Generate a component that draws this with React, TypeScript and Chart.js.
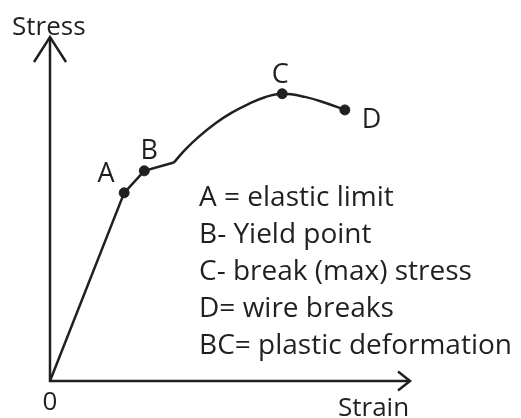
import React, { useEffect, useRef } from "react";
import { Chart, registerables } from "chart.js";

Chart.register(...registerables);

// Elastic (straight) part: origin -> A -> B -> kink
const elasticX = [0, 20.6, 26.2, 34.4];
const elasticY = [0, 54.7, 61.1, 63.5];
// Plastic (curved) part: kink -> C -> D
const plasticX = [34.4, 37.5, 41.2, 45.8, 50.5, 55.1, 59.7, 64.5, 70.8, 76.4, 81.9];
const plasticY = [63.5, 67.2, 70.9, 74.8, 78.0, 80.5, 82.5, 83.5, 82.6, 80.9, 78.8];
// Marked points
const pointLabels = ["A", "B", "C", "D"];
const pointX = [20.6, 26.2, 64.5, 81.9];
const pointY = [54.7, 61.1, 83.5, 78.8];
// Axis labels and key
const xAxisLabel = "Strain";
const yAxisLabel = "Stress";
const originLabel = "0";
const keyLines = [
  "A = elastic limit",
  "B- Yield point",
  "C- break (max) stress",
  "D= wire breaks",
  "BC= plastic deformation",
];

const INK = "#231f20";
const FONT = "26px 'Open Sans'";
const KEY_FONT = "28px 'Open Sans'";
const LABEL_FONT = "27px 'Open Sans'";

const toXY = (xs: number[], ys: number[]) => xs.map((x, i) => ({ x, y: ys[i] }));

export default function App() {
  const ref = useRef<HTMLCanvasElement | null>(null);

  useEffect(() => {
    if (!ref.current) return;
    const labelOffsets: Record<string, [number, number, CanvasTextAlign]> = {
      A: [-18, -11, "center"],
      B: [5, -12, "center"],
      C: [-2, -11, "center"],
      D: [17, 18, "left"],
    };
    const decor = {
      id: "decor",
      beforeDatasetsDraw(chart: any) {
        const ctx = chart.ctx as CanvasRenderingContext2D;
        const xs = chart.scales.x;
        const ys = chart.scales.y;
        const x0 = xs.getPixelForValue(0);
        const x1 = xs.getPixelForValue(100);
        const y0 = ys.getPixelForValue(0);
        const y1 = ys.getPixelForValue(100);
        ctx.save();
        ctx.strokeStyle = INK;
        ctx.lineWidth = 2.5;
        ctx.lineCap = "butt";
        ctx.lineJoin = "miter";
        ctx.beginPath();
        ctx.moveTo(x0, y1);
        ctx.lineTo(x0, y0);
        ctx.lineTo(x1, y0);
        ctx.stroke();
        // Y arrow head
        ctx.beginPath();
        ctx.moveTo(x0 - 16, y1 + 25);
        ctx.lineTo(x0, y1);
        ctx.lineTo(x0 + 16, y1 + 25);
        ctx.stroke();
        // X arrow head
        ctx.beginPath();
        ctx.moveTo(x1 - 12, y0 - 9.5);
        ctx.lineTo(x1, y0);
        ctx.lineTo(x1 - 12, y0 + 9.5);
        ctx.stroke();
        ctx.restore();
      },
      afterDraw(chart: any) {
        const ctx = chart.ctx as CanvasRenderingContext2D;
        const xs = chart.scales.x;
        const ys = chart.scales.y;
        const x0 = xs.getPixelForValue(0);
        const x1 = xs.getPixelForValue(100);
        const y0 = ys.getPixelForValue(0);
        const y1 = ys.getPixelForValue(100);
        ctx.save();
        ctx.fillStyle = INK;
        ctx.font = FONT;
        ctx.textBaseline = "alphabetic";
        ctx.textAlign = "left";
        ctx.fillText(yAxisLabel, x0 - 38, y1 - 2);
        ctx.textAlign = "center";
        ctx.fillText(originLabel, x0, y0 + 29);
        ctx.textAlign = "left";
        ctx.fillText(xAxisLabel, x1 - 72, y0 + 35);
        ctx.font = LABEL_FONT;
        pointLabels.forEach((lab, i) => {
          const px = xs.getPixelForValue(pointX[i]);
          const py = ys.getPixelForValue(pointY[i]);
          const [dx, dy, al] = labelOffsets[lab];
          ctx.textAlign = al;
          ctx.fillText(lab, px + dx, py + dy);
        });
        ctx.font = KEY_FONT;
        ctx.textAlign = "left";
        const kx = xs.getPixelForValue(41.4);
        const ky = ys.getPixelForValue(51);
        keyLines.forEach((t, i) => {
          ctx.fillText(t, kx, ky + i * 37.2);
        });
        ctx.restore();
      },
    };

    const chart = new Chart(ref.current, {
      type: "scatter",
      data: {
        datasets: [
          {
            data: toXY(elasticX, elasticY),
            showLine: true,
            borderColor: INK,
            borderWidth: 2.5,
            pointRadius: 0,
            tension: 0,
            order: 2,
          },
          {
            data: toXY(plasticX, plasticY),
            showLine: true,
            borderColor: INK,
            borderWidth: 2.5,
            pointRadius: 0,
            tension: 0.4,
            order: 2,
          },
          {
            data: toXY(pointX, pointY),
            showLine: false,
            backgroundColor: INK,
            borderColor: INK,
            pointRadius: 5,
            order: 1,
          },
        ],
      },
      options: {
        animation: false,
        responsive: false,
        devicePixelRatio: 1,
        layout: { padding: { left: 50, top: 37, right: 111, bottom: 37 } },
        plugins: { legend: { display: false }, tooltip: { enabled: false } },
        scales: {
          x: { type: "linear", min: 0, max: 100, display: false },
          y: { type: "linear", min: 0, max: 100, display: false },
        },
      },
      plugins: [decor],
    } as any);
    return () => chart.destroy();
  }, []);

  return (
    <div style={{ position: "fixed", left: 0, top: 0, width: 521, height: 418, background: "#fff" }}>
      <canvas ref={ref} width={521} height={418} style={{ display: "block" }} />
    </div>
  );
}
